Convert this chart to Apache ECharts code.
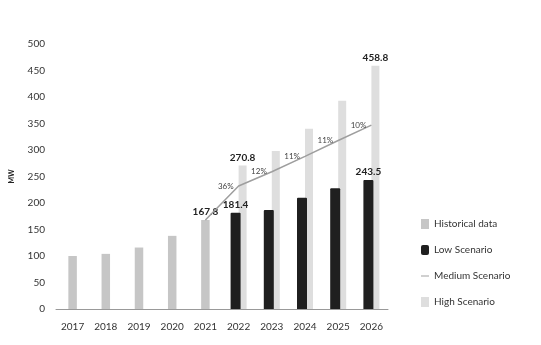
<!DOCTYPE html>
<html>
<head>
<meta charset="utf-8">
<script src="https://cdn.jsdelivr.net/npm/echarts@6/dist/echarts.min.js"></script>
<style>
  html, body { margin: 0; padding: 0; background: #fff; }
  #chart { width: 541px; height: 345px; }
</style>
</head>
<body>
<div id="chart"></div>
<script>
const years = ['2017', '2018', '2019', '2020', '2021', '2022', '2023', '2024', '2025', '2026'];
const historical = [100, 104, 116, 138, 167.8, null, null, null, null, null];
const lowScenario = [null, null, null, null, null, 181.4, 187, 210, 228, 243.5];
const mediumScenario = [null, null, null, null, 167.8, 232, 259, 288, 318, 347];
const highScenario = [null, null, null, null, null, 270.8, 298, 340, 393, 458.8];
const growthLabels = ['', '', '', '', '', '36%', '12%', '11%', '11%', '10%'];
const labelledYears = ['2021', '2022', '2026'];

const FONT = 'Lato, "DejaVu Sans", sans-serif';
const valueLabel = { show: true, position: 'top', distance: 3, color: '#222', fontSize: 10, fontWeight: 'bold', fontFamily: FONT };

function withLabels(values) {
  return values.map((v, i) => (v != null && labelledYears.includes(years[i]))
    ? { value: v, label: valueLabel }
    : v);
}

const chart = echarts.init(document.getElementById('chart'), null, { renderer: 'canvas' });
chart.setOption({
  animation: false,
  textStyle: { fontFamily: FONT },
  grid: { left: 55, right: 153, top: 44, bottom: 36 },
  legend: {
    orient: 'vertical',
    left: 416,
    top: 214,
    itemWidth: 8,
    itemHeight: 10,
    itemGap: 16,
    textStyle: { fontSize: 10, color: '#333', fontFamily: FONT },
    data: [
      { name: 'Historical data', icon: 'rect' },
      { name: 'Low Scenario', icon: 'roundRect' },
      { name: 'Medium Scenario', icon: 'path://M0,4.4h10v1.2h-10z' },
      { name: 'High Scenario', icon: 'rect' }
    ]
  },
  xAxis: [
    {
      type: 'category',
      data: years,
      axisLine: { lineStyle: { color: '#999', width: 1 } },
      axisTick: { show: false },
      axisLabel: { color: '#333', fontSize: 10, margin: 13, fontFamily: FONT }
    },
    {
      type: 'category',
      data: years,
      show: false
    }
  ],
  yAxis: {
    type: 'value',
    min: 0,
    max: 500,
    interval: 50,
    name: 'MW',
    nameLocation: 'middle',
    nameRotate: 90,
    nameGap: 41,
    nameTextStyle: { fontSize: 7, fontWeight: 'bold', color: '#222' },
    axisLine: { show: false },
    axisTick: { show: false },
    splitLine: { show: false },
    axisLabel: { color: '#333', fontSize: 10, margin: 11, fontFamily: FONT }
  },
  series: [
    {
      name: 'Historical data',
      type: 'bar',
      xAxisIndex: 0,
      barWidth: 8.5,
      itemStyle: { color: '#c6c6c6' },
      data: withLabels(historical)
    },
    {
      name: 'Low Scenario',
      type: 'bar',
      xAxisIndex: 1,
      barWidth: 10,
      barGap: '-20%',
      z: 3,
      itemStyle: { color: '#1f1f1f', borderRadius: [1, 1, 0, 0] },
      data: withLabels(lowScenario)
    },
    {
      name: 'Medium Scenario',
      type: 'line',
      xAxisIndex: 0,
      showSymbol: true,
      symbol: 'circle',
      symbolSize: 0,
      z: 4,
      lineStyle: { color: '#9e9e9e', width: 1.5 },
      itemStyle: { color: '#9e9e9e' },
      data: mediumScenario.map((v, i) => v == null ? null : {
        value: v,
        label: {
          show: growthLabels[i] !== '',
          formatter: growthLabels[i],
          position: 'left',
          distance: 5,
          color: '#444',
          fontSize: 8,
          fontFamily: FONT
        }
      })
    },
    {
      name: 'High Scenario',
      type: 'bar',
      xAxisIndex: 1,
      barWidth: 8,
      barGap: '-20%',
      z: 2,
      itemStyle: { color: '#dedede' },
      data: withLabels(highScenario)
    }
  ]
});
</script>
</body>
</html>
